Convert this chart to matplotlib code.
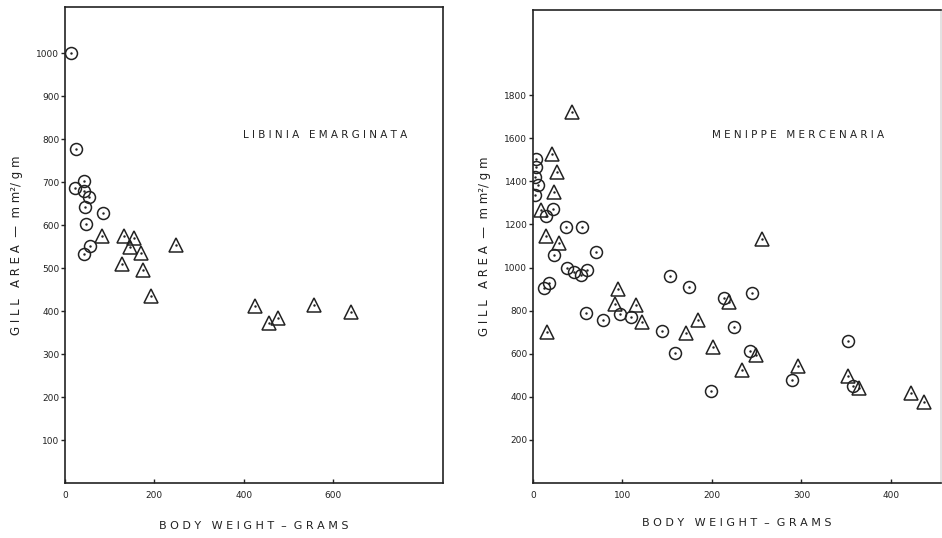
import matplotlib
matplotlib.use("Agg")
import matplotlib.pyplot as plt

plt.rcParams['font.family'] = ['DejaVu Sans']

# Libinia emarginata (left panel)
lib_circ_x = [13, 24, 22, 43, 42, 54, 44, 86, 46, 57, 43]
lib_circ_y = [1000, 776, 687, 702, 679, 664, 642, 629, 602, 551, 532]
lib_tri_x = [83, 133, 154, 146, 171, 248, 128, 174, 192, 425, 457, 476, 558, 639]
lib_tri_y = [574, 574, 569, 549, 535, 554, 509, 496, 434, 411, 371, 384, 414, 397]

# Menippe mercenaria (right panel)
men_circ_x = [3, 3, 2, 6, 2, 22, 14, 37, 55, 70, 23, 38, 46, 54, 60, 18, 12,
              59, 78, 97, 109, 144, 153, 159, 174, 199, 213, 225, 245, 243,
              289, 352, 358]
men_circ_y = [1502, 1465, 1420, 1384, 1338, 1271, 1237, 1186, 1186, 1073, 1059,
              1000, 981, 964, 989, 929, 907, 788, 755, 784, 772, 705, 961, 602,
              909, 425, 857, 726, 881, 612, 478, 660, 450]
men_tri_x = [44, 21, 27, 24, 9, 14, 29, 16, 256, 95, 92, 115, 122, 171, 184,
             201, 219, 234, 249, 296, 352, 364, 422, 437]
men_tri_y = [1721, 1527, 1443, 1352, 1265, 1147, 1116, 699, 1132, 899, 829, 826,
             747, 696, 757, 633, 839, 524, 594, 544, 498, 443, 417, 377]

lib_yticks = [100, 200, 300, 400, 500, 600, 700, 800, 900, 1000]
lib_xticks = [0, 200, 400, 600]
men_yticks = [200, 400, 600, 800, 1000, 1200, 1400, 1600, 1800]
men_xticks = [0, 100, 200, 300, 400]

ylabel_txt = "G I L L   A R E A  \u2014  m m\u00b2/ g m"
xlabel_txt = "B O D Y   W E I G H T  \u2013  G R A M S"


def scatter_panel(ax, cx, cy, tx, ty):
    ax.plot(cx, cy, 'o', ms=8.6, mfc='none', mec='#222222', mew=1.1, ls='none')
    ax.plot(tx, ty, '^', ms=9.5, mfc='none', mec='#222222', mew=1.1, ls='none')
    ax.plot(cx + tx, cy + ty, '.', ms=1.5, color='#222222', ls='none')


def style_axes(ax):
    for s in ax.spines.values():
        s.set_linewidth(1.2)
        s.set_color('#222222')
    ax.tick_params(axis='y', direction='out', length=3, width=1, labelsize=6.5,
                   colors='#222222', pad=1)
    ax.tick_params(axis='x', direction='in', length=3, width=1, labelsize=6.5,
                   colors='#222222', pad=6)


fig = plt.figure(figsize=(9.42, 5.38), dpi=100)

ax1 = fig.add_axes([65 / 942, 55 / 538, 378 / 942, 476 / 538])
scatter_panel(ax1, lib_circ_x, lib_circ_y, lib_tri_x, lib_tri_y)
ax1.set_xlim(0, 846)
ax1.set_ylim(0, 1107)
ax1.set_xticks(lib_xticks)
ax1.set_yticks(lib_yticks)
style_axes(ax1)
ax1.text(582, 809, "L I B I N I A   E M A R G I N A T A", ha='center', va='center',
         fontsize=7.5, color='#222222')
ax1.set_ylabel(ylabel_txt, fontsize=8.5, color='#222222', labelpad=10)
ax1.set_xlabel(xlabel_txt, fontsize=8, color='#222222', labelpad=15)

ax2 = fig.add_axes([533 / 942, 55 / 538, 408 / 942, 473 / 538])
scatter_panel(ax2, men_circ_x, men_circ_y, men_tri_x, men_tri_y)
ax2.set_xlim(0, 456)
ax2.set_ylim(0, 2195)
ax2.set_xticks(men_xticks)
ax2.set_yticks(men_yticks)
style_axes(ax2)
ax2.spines['right'].set_color('#dddddd')
ax2.text(296, 1614, "M E N I P P E   M E R C E N A R I A", ha='center', va='center',
         fontsize=7.5, color='#222222')
ax2.set_ylabel(ylabel_txt, fontsize=8.5, color='#222222', labelpad=10)
ax2.set_xlabel(xlabel_txt, fontsize=8, color='#222222', labelpad=13)

fig.savefig("out.png", dpi=100)
